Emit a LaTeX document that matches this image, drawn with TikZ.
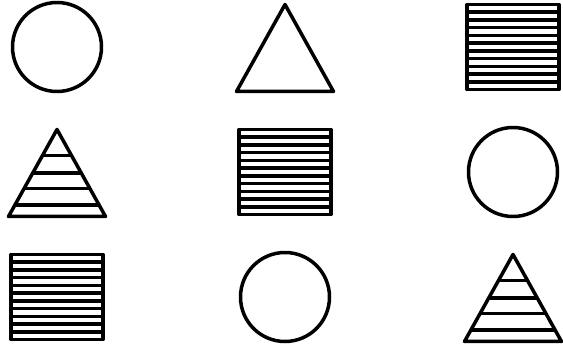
\documentclass[tikz,border=0pt]{standalone}
\usepackage{tikz}
\usetikzlibrary{positioning, shapes.geometric, calc}

\begin{document}
\begin{tikzpicture}[x=1pt, y=1pt, node distance=125pt and 228pt, on grid,
        every node/.style={draw, line width=3.5pt, line join=round, inner sep=0pt},
        ring/.style={circle, minimum size=89pt},
        peak/.style={isosceles triangle, isosceles triangle stretches, shape border rotate=90,
            minimum width=97pt, minimum height=87pt, yshift=-16pt},
        block/.style={rectangle, minimum width=92pt, minimum height=85pt},
        ruled/.style={path picture={
            \foreach \i in {1,...,10}
                \draw[line width=3.5pt] ($(path picture bounding box.south west)!\i/11!(path picture bounding box.north west)$) -- ++(120pt,0);
        }},
        banded/.style={path picture={
            \foreach \f in {0.13, 0.32, 0.50, 0.70}
                \draw[line width=3.5pt] ($(path picture bounding box.south west)!\f!(path picture bounding box.north west)$) -- ++(120pt,0);
        }}]
        \useasboundingbox (0,0) rectangle (563,-348);

        % triangles are shifted, so nothing is placed relative to them
        \node[ring] (a1) at (57,-47) {};
        \node[peak] (b1) [right=of a1] {};
        \node[block, ruled] (c1) [right=456pt of a1] {};

        \node[peak, banded] (a2) [below=of a1] {};
        \node[block, ruled] (b2) [below left=of c1] {};
        \node[ring] (c2) [below=of c1] {};

        \node[block, ruled] (a3) [below left=of b2] {};
        \node[ring] (b3) [below=of b2] {};
        \node[peak, banded] (c3) [below=of c2] {};

    \end{tikzpicture}
\end{document}
